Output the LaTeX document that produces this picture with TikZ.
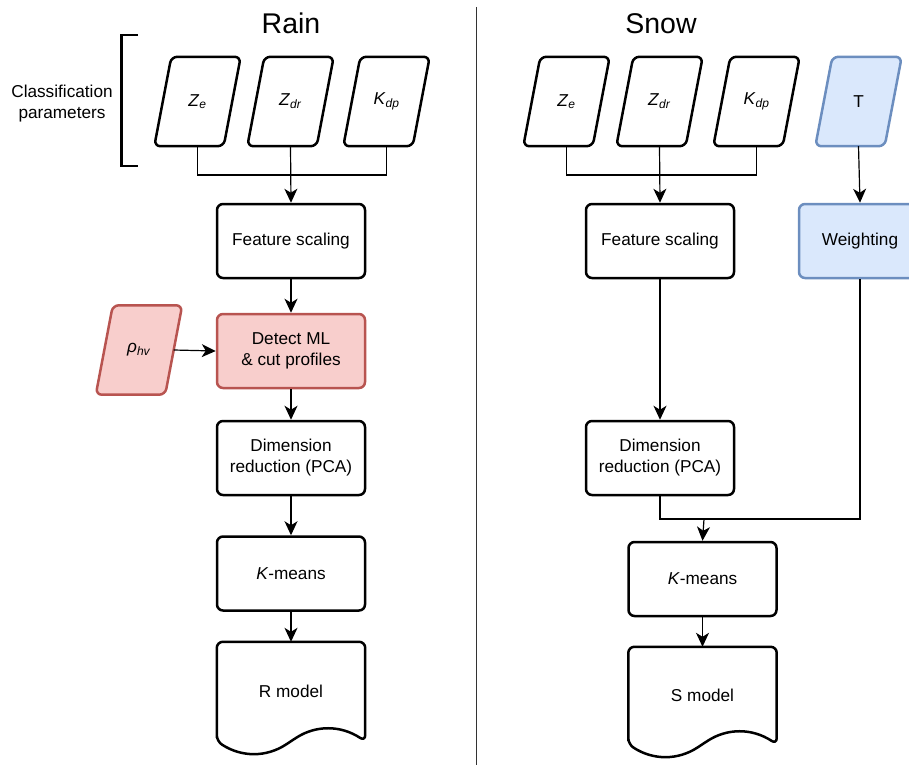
\documentclass[tikz,border=0pt]{standalone}
\usepackage{fontspec}
\setmainfont{Liberation Sans}
\usetikzlibrary{arrows.meta,calc}
\definecolor{redfill}{HTML}{F8CECC}
\definecolor{redline}{HTML}{B85450}
\definecolor{bluefill}{HTML}{DAE8FC}
\definecolor{blueline}{HTML}{6C8EBF}
\newcommand\pgramshape[2][]{\path[pshape,#1] ([xshift=8.5pt]#2.north west) -- ([xshift=8.5pt]#2.north east) -- ([xshift=-8.5pt]#2.south east) -- ([xshift=-8.5pt]#2.south west) -- cycle;}
\newcommand\docshape[1]{\path[pshape] (#1.south west) -- (#1.north west) -- (#1.north east) -- (#1.south east)
  .. controls +(-24.7,-16.2) and +(24.7,-16.2) .. (#1.south)
  .. controls +(-24.7,16.2) and +(24.7,16.2) .. (#1.south west) -- cycle;}
\begin{document}
\begin{tikzpicture}[x=1pt,y=-1pt,
  txt/.style={font=\fontsize{17.2}{21}\selectfont},
  box/.style={txt, draw, line width=2.5pt, rounded corners=6pt, minimum width=148pt, minimum height=74pt, align=center, inner sep=0pt},
  ptext/.style={txt, minimum width=69pt, minimum height=89pt, inner sep=0pt},
  pshape/.style={draw, line width=2.5pt, rounded corners=6pt, line join=round},
  redstyle/.style={fill=redfill, draw=redline},
  bluestyle/.style={fill=bluefill, draw=blueline},
  docnode/.style={txt, minimum width=148pt, inner sep=0pt, align=center},
  conn/.style={line width=1.2pt},
  arr/.style={conn, -{Stealth[length=14pt,width=13pt,inset=4pt]}},
  title/.style={font=\fontsize{28.5}{30}\selectfont, anchor=base}
]
\useasboundingbox (0,0) rectangle (909,765);

% titles and divider
\node[title] (train) at (291,34) {Rain};
\node[title] (tsnow) at (661,34) {Snow};
\coordinate (divtop) at (476.5,7);
\coordinate (divbot) at (476.5,765);
\draw[line width=1.2pt, black!80] (divtop) -- (divbot);

% bracket and label
\coordinate (b1) at (138,35);
\coordinate (b2) at (121.5,35);
\coordinate (b3) at (121.5,166);
\coordinate (b4) at (138,166);
\draw[line width=2.5pt] (b1) -- (b2) -- (b3) -- (b4);
\node[txt, align=center] (clab) at (62,104) {Classification\\parameters};

% ---------- Rain ----------
\node[ptext] (zeR) at (197.5,101.5) {};
\node[ptext] (zdrR) at (290.5,101.5) {};
\node[ptext] (kdpR) at (386.5,101.5) {};
\pgramshape[fill=white]{zeR}
\pgramshape[fill=white]{zdrR}
\pgramshape[fill=white]{kdpR}
\node[txt] at (zeR) {\textit{Z}\textsubscript{\textit{e}}};
\node[txt] at (zdrR) {\textit{Z}\textsubscript{\textit{dr}}};
\node[txt] at (kdpR) {\textit{K}\textsubscript{\textit{dp}}};

\node[box] (fsR) at (291,241) {Feature scaling};
\node[box, redstyle] (mlR) at (291,351) {Detect ML\\\& cut profiles};
\node[ptext] (rho) at (139,350) {};
\pgramshape[redstyle]{rho}
\node[txt] at (rho) {\textit{ρ}\textsubscript{\textit{hv}}};
\node[box] (drR) at (291,458) {Dimension\\reduction (PCA)};
\node[box] (kmR) at (291,573.5) {\textit{K}-means};
\node[docnode, minimum height=99pt] (rmod) at (291,691.5) {R model};
\docshape{rmod}

\coordinate (busR) at (291,175);
\draw[conn] (zeR.south) |- (busR) -| (kdpR.south);
\draw[arr] (zdrR.south) -- (fsR.north);
\draw[arr] (fsR.south) -- (mlR.north);
\draw[arr] (rho.east) -- (mlR.west);
\draw[arr] (mlR.south) -- (drR.north);
\draw[arr] (drR.south) -- (kmR.north);
\draw[arr] (kmR.south) -- (rmod.north);

% ---------- Snow ----------
\node[ptext] (zeS) at (566.5,101.5) {};
\node[ptext] (zdrS) at (659.5,101.5) {};
\node[ptext] (kdpS) at (756.5,101.5) {};
\node[ptext] (tS) at (858.5,101.5) {};
\pgramshape[fill=white]{zeS}
\pgramshape[fill=white]{zdrS}
\pgramshape[fill=white]{kdpS}
\pgramshape[bluestyle]{tS}
\node[txt] at (zeS) {\textit{Z}\textsubscript{\textit{e}}};
\node[txt] at (zdrS) {\textit{Z}\textsubscript{\textit{dr}}};
\node[txt] at (kdpS) {\textit{K}\textsubscript{\textit{dp}}};
\node[txt] at (tS) {T};

\node[box] (fsS) at (660,241) {Feature scaling};
\node[box, bluestyle, minimum width=122pt] (wS) at (860,241) {Weighting};
\node[box] (drS) at (660,458) {Dimension\\reduction (PCA)};
\node[box] (kmS) at (702.5,579) {\textit{K}-means};
\node[docnode, minimum height=97pt] (smod) at (702.5,695.5) {S model};
\docshape{smod}

\coordinate (busS) at (660,175);
\coordinate (mergeS) at (704,519);
\draw[conn] (zeS.south) |- (busS) -| (kdpS.south);
\draw[arr] (zdrS.south) -- (fsS.north);
\draw[arr] (tS.south) -- (wS.north);
\draw[arr] (fsS.south) -- (drS.north);
\draw[conn] (drS.south) |- (mergeS) -| (wS.south);
\draw[arr] (mergeS) -- (kmS.north);
\draw[arr] (kmS.south) -- (smod.north);
\end{tikzpicture}
\end{document}
